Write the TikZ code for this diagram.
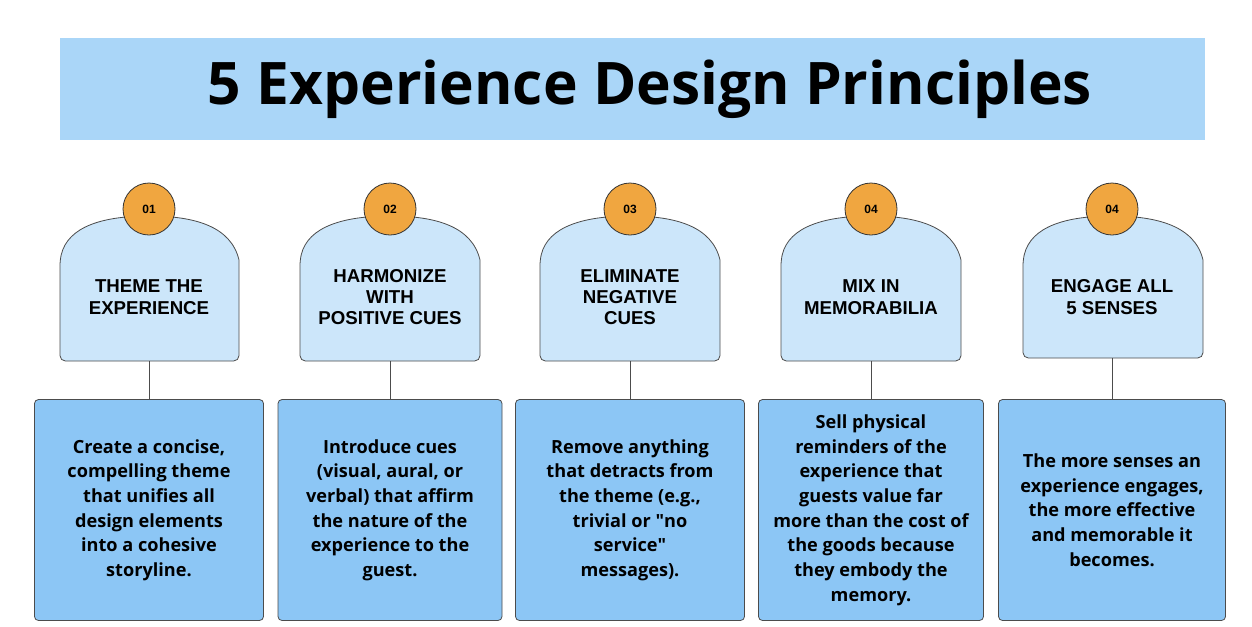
\documentclass[tikz,border=0pt]{standalone}
\usepackage{fontspec}
\setmainfont{Open Sans}
\newfontfamily\hfont{Liberation Sans}
\definecolor{titlebg}{HTML}{AAD6F8}
\definecolor{headbg}{HTML}{CCE6FA}
\definecolor{boxbg}{HTML}{8CC6F5}
\definecolor{orng}{HTML}{F0A640}
\begin{document}
\begin{tikzpicture}[x=0.75pt,y=-0.75pt,
  shp/.style={draw=black!70,line width=0.6pt,fill=headbg},
  bx/.style={draw=black!70,line width=0.6pt,fill=boxbg,rounded corners=3pt},
  num/.style={circle,draw=black!80,line width=0.6pt,fill=orng,minimum size=39pt,inner sep=0pt,font=\hfont\bfseries\fontsize{9}{10}\selectfont},
  head/.style={align=center,font=\hfont\bfseries\fontsize{14}{16}\selectfont},
  body/.style={align=center,font=\bfseries\fontsize{13.6}{18.5}\selectfont},
  conn/.style={draw=black!70,line width=0.6pt}]
\useasboundingbox (0,0) rectangle (1252,626);
\fill[white] (0,0) rectangle (1252,626);
\node[fill=titlebg,minimum width=858.75pt,minimum height=76.5pt,inner sep=0pt] (titlebox) at (632.5,89) {};
\node[font=\fontsize{44}{50}\selectfont\bfseries] (title) at (650,89) {5 Experience Design Principles};
\newcommand\mycol[9]{%
  \path[shp,rounded corners=4pt] (#3,#9) -- (#3,260) [sharp corners] .. controls (#3+8,226) and (#2-45,216) .. (#2,216) .. controls (#2+45,216) and (#4-8,226) .. (#4,260) [rounded corners=4pt] -- (#4,#9) -- cycle;
  \coordinate (hb#1) at (#2,#9);
  \node[num] (n#1) at (#2,209) {#6};
  \node[head] (h#1) at (#2,297) {#7};
  \node[bx,minimum width={(#5)*0.75pt},minimum height=165.75pt,inner sep=6pt] (b#1) at (#2,510) {};
  \node[body] (t#1) at (b#1.center) {#8};
  \draw[conn] (hb#1) -- (b#1.north);
}
\mycol{1}{149}{60}{239}{229}{01}{THEME THE\\EXPERIENCE}{Create a concise,\\compelling theme\\that unifies all\\design elements\\into a cohesive\\storyline.}{361}
\mycol{2}{390}{300}{480}{224}{02}{HARMONIZE\\WITH\\POSITIVE CUES}{Introduce cues\\(visual, aural, or\\verbal) that affirm\\the nature of the\\experience to the\\guest.}{361}
\mycol{3}{630}{540}{720}{229}{03}{ELIMINATE\\NEGATIVE\\CUES}{Remove anything\\that detracts from\\the theme (e.g.,\\trivial or \textquotedbl no\\service\textquotedbl\\messages).}{361}
\mycol{4}{871}{781}{961}{225}{04}{MIX IN\\MEMORABILIA}{Sell physical\\reminders of the\\experience that\\guests value far\\more than the cost of\\the goods because\\they embody the\\memory.}{361}
\mycol{5}{1112}{1023}{1203}{227}{04}{ENGAGE ALL\\5 SENSES}{The more senses an\\experience engages,\\the more effective\\and memorable it\\becomes.}{358}
\end{tikzpicture}
\end{document}
